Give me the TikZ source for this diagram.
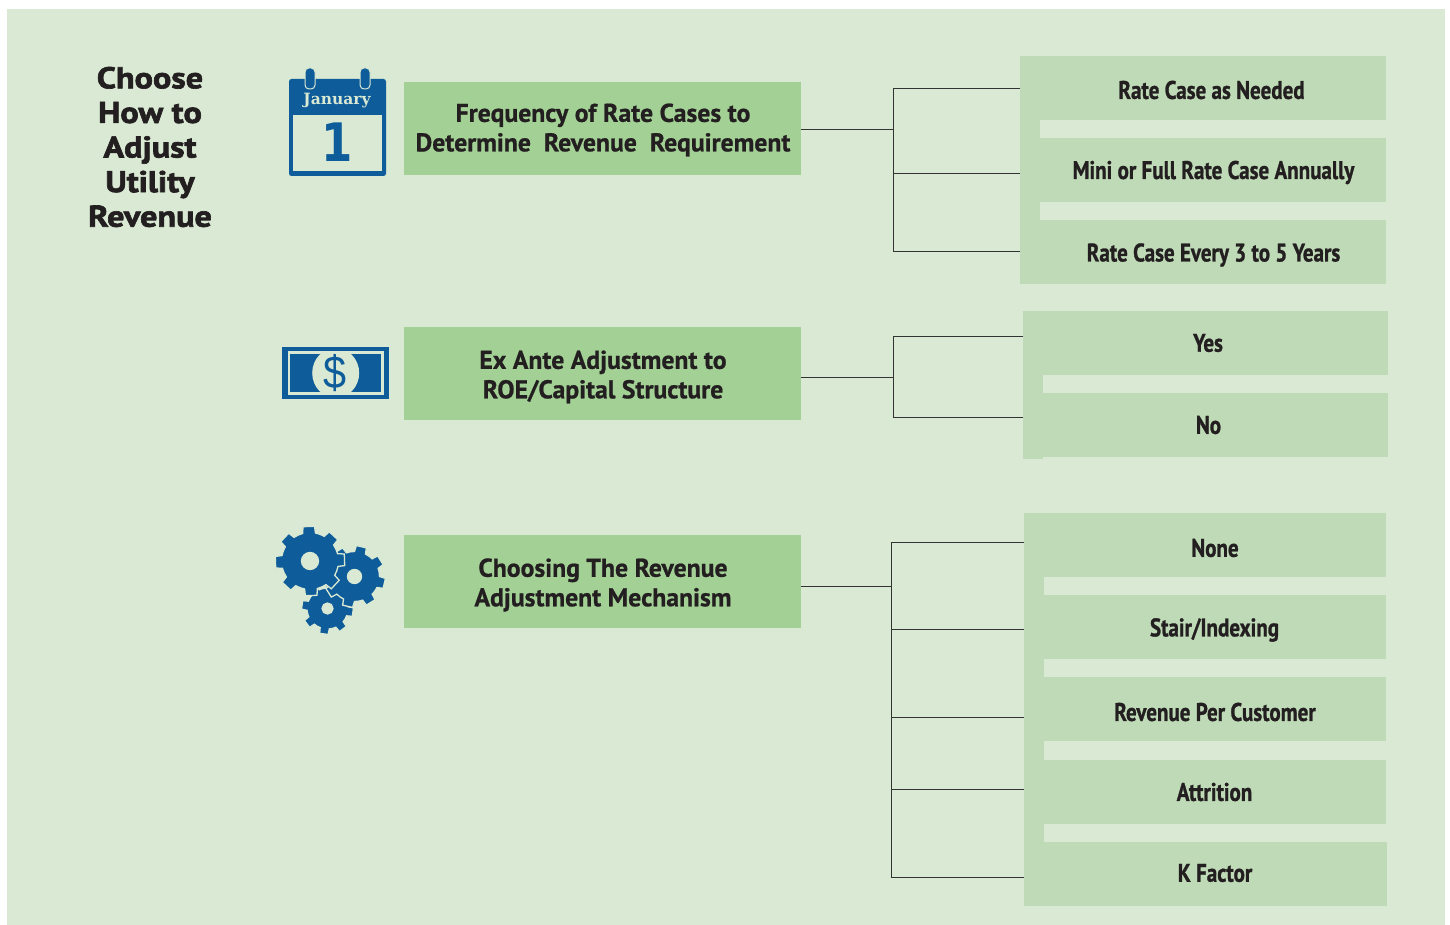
\documentclass[tikz,border=0pt]{standalone}
\usepackage{fontspec}
\setmainfont{PT Sans}
\newfontfamily\titlef[FakeBold=2.2,FakeStretch=1.14]{PT Sans Bold}
\newfontfamily\mainf[FakeBold=0.8]{PT Sans Bold}
\newfontfamily\optf[FakeStretch=0.825,FakeBold=1.0]{PT Sans Bold}
\newfontfamily\slab{DejaVu Serif Bold}
\newfontfamily\digit[FakeStretch=0.85]{DejaVu Sans Bold}
\newfontfamily\dollarf[FakeStretch=0.9]{Liberation Sans}
\definecolor{bgc}{HTML}{D9E9D3}
\definecolor{mainc}{HTML}{A3D095}
\definecolor{optc}{HTML}{BFDAB6}
\definecolor{bluec}{HTML}{0E5C99}
\definecolor{inkc}{HTML}{231F20}
\definecolor{linec}{HTML}{333333}
\tikzset{
  x=1pt,y=-1pt,
  mainbox/.style={fill=mainc,minimum width=397pt,minimum height=93pt,inner sep=0pt,text=inkc},
  optbox/.style={fill=optc,minimum height=64pt,inner sep=0pt,text=inkc},
  maintext/.style={align=center,inner sep=0pt,text=inkc,font=\mainf\fontsize{25.7}{29.5}\selectfont},
  opttext/.style={inner sep=0pt,text=inkc,font=\optf\fontsize{25.5}{29}\selectfont},
  strip/.style={fill=optc,minimum width=20pt,inner sep=0pt},
  conn/.style={draw=linec,line width=0.9pt},
}
% \gearshape{cx}{cy}{outer}{root}{rotation}{hole}
\newcommand{\gearshape}[6]{%
  \fill[bluec,draw=bgc,line width=1.3pt,even odd rule]
    ({#1+#4*cos(#5-22.5)},{#2+#4*sin(#5-22.5)})
    \foreach \k in {0,...,7}{
      -- ({#1+#4*cos(#5+45*\k-13)},{#2+#4*sin(#5+45*\k-13)})
      -- ({#1+#3*cos(#5+45*\k-9.5)},{#2+#3*sin(#5+45*\k-9.5)})
      -- ({#1+#3*cos(#5+45*\k+9.5)},{#2+#3*sin(#5+45*\k+9.5)})
      -- ({#1+#4*cos(#5+45*\k+13)},{#2+#4*sin(#5+45*\k+13)})
      -- ({#1+#4*cos(#5+45*\k+22.5)},{#2+#4*sin(#5+45*\k+22.5)})
    } -- cycle
    (#1,#2) circle[radius=#6];
}
\begin{document}
\begin{tikzpicture}
\useasboundingbox (0,0) rectangle (1450,925);
\fill[white] (0,0) rectangle (1450,925);
\fill[bgc] (7,9) rectangle (1445,925);

% title
\node[align=center,text=inkc,font=\titlef\fontsize{30}{34.6}\selectfont,inner sep=0pt] (title) at (150,147) {Choose\\How to\\Adjust\\Utility\\Revenue};

% main boxes
\node[mainbox] (m1) at (602.5,128.5) {};
\node[mainbox] (m2) at (602.5,373.5) {};
\node[mainbox] (m3) at (602.5,581.5) {};
\node[maintext] (t1) at (603,130) {Frequency of Rate Cases to\\Determine\ \ Revenue\ \ Requirement};
\node[maintext] (t2) at (603,377) {Ex Ante Adjustment to\\ROE/Capital Structure};
\node[maintext] (t3) at (603,585) {Choosing The Revenue\\Adjustment Mechanism};

% option boxes: group 1
\node[strip,minimum height=228pt] (s1) at (1030,170) {};
\node[optbox,minimum width=346pt] (o11) at (1213,88) {};
\node[optbox,minimum width=346pt] (o12) at (1213,170) {};
\node[optbox,minimum width=346pt] (o13) at (1213,252) {};
\node[opttext] at (1211.5,90) {Rate Case as Needed};
\node[opttext] at (1213.5,172.5) {Mini or Full Rate Case Annually};
\node[opttext] at (1213.5,255) {Rate Case Every 3 to 5 Years};
% group 2
\node[strip,minimum height=148pt] (s2) at (1033,385) {};
\node[optbox,minimum width=345pt] (o21) at (1215.5,343) {};
\node[optbox,minimum width=345pt] (o22) at (1215.5,425) {};
\node[opttext] at (1208,343) {Yes};
\node[opttext] at (1208.5,425) {No};
% group 3
\node[strip,minimum height=393pt] (s3) at (1034,709.5) {};
\node[optbox,minimum width=342pt] (o31) at (1215,545) {};
\node[optbox,minimum width=342pt] (o32) at (1215,627) {};
\node[optbox,minimum width=342pt] (o33) at (1215,709) {};
\node[optbox,minimum width=342pt] (o34) at (1215,792) {};
\node[optbox,minimum width=343pt] (o35) at (1215.5,874) {};
\node[opttext] at (1215,548) {None};
\node[opttext] at (1214.5,630) {Stair/Indexing};
\node[opttext] at (1215,712) {Revenue Per Customer};
\node[opttext] at (1214.5,792) {Attrition};
\node[opttext] at (1215,873) {K Factor};

% connectors
\coordinate (j1) at (893,129);
\coordinate (j2) at (893,377);
\coordinate (j3) at (891,586);
\coordinate (e11) at (1020,88.7);
\coordinate (e12) at (1020,173);
\coordinate (e13) at (1020,251);
\coordinate (e21) at (1023,336.7);
\coordinate (e22) at (1023,417.7);
\coordinate (e31) at (1024,542);
\coordinate (e32) at (1024,629);
\coordinate (e33) at (1024,717);
\coordinate (e34) at (1024,789);
\coordinate (e35) at (1024,877);
\draw[conn] (m1.east |- j1) -- (j1);
\draw[conn] (m2.east |- j2) -- (j2);
\draw[conn] (m3.east |- j3) -- (j3);
\foreach \e/\j in {e11/j1,e12/j1,e13/j1,e21/j2,e22/j2,e31/j3,e32/j3,e33/j3,e34/j3,e35/j3}
  \draw[conn] (\e) -| (\j);

% calendar icon
\fill[bluec,rounded corners=2.5pt] (289,79) rectangle (386,176);
\fill[bgc] (293,115) rectangle (381.5,171.5);
\foreach \cx in {310,365}{
  \fill[bluec,draw=bgc,line width=1pt,rounded corners=4pt] (\cx-5,68) rectangle (\cx+5,89);
}
\node[text=bgc,font=\slab\fontsize{15.5}{16}\selectfont,inner sep=0pt] (jan) at (337,100.5) {January};
\node[text=bluec,font=\digit\fontsize{53}{53}\selectfont,inner sep=0pt] (one) at (337.5,142) {1};

% bill icon
\fill[bluec] (282.3,346.7) rectangle (388.5,399);
\fill[bgc] (287.7,351) rectangle (384,395);
\fill[bluec] (290,354.3) rectangle (381,391.7);
\begin{scope}
\clip (282.3,354.3) rectangle (388.5,391.7);
\fill[bgc] (335.7,373) ellipse[x radius=23.5,y radius=25];
\end{scope}
\node[text=bluec,font=\dollarf\fontsize{46}{46}\selectfont,inner sep=0pt] (dollar) at (335.5,373) {\$};

% gear icon
\gearshape{327.5}{608.5}{26}{20.5}{8}{5.5}
\gearshape{354.5}{576.5}{31}{25}{13}{7}
\gearshape{310}{561}{35}{28.5}{-2}{8.5}
\end{tikzpicture}
\end{document}
